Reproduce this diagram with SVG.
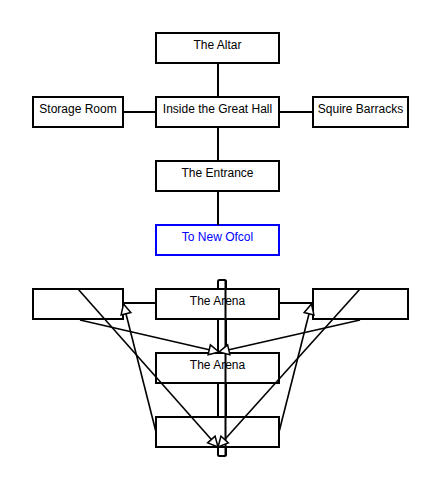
<svg xmlns="http://www.w3.org/2000/svg" width="441" height="480" viewBox="0 0 441 480">
<style>
.box{fill:#fff;stroke:#000;stroke-width:2}
.blue{fill:#fff;stroke:#0000ff;stroke-width:2}
.t{font-family:"Liberation Sans",Arial,sans-serif;font-size:12px;text-anchor:middle;fill:#000}
.tb{fill:#0000ff}
.c{stroke:#000;stroke-width:2;fill:none}
.d{stroke:#000;stroke-width:1.6;fill:none}
</style>
<defs>
<marker id="ah" markerUnits="userSpaceOnUse" markerWidth="14" markerHeight="14" viewBox="-2 -2 14 14" refX="10" refY="5" orient="auto">
<path d="M0,0 L10,5 L0,10 Z" fill="#fff" stroke="#000" stroke-width="1.5"/>
</marker>
</defs>
<rect width="441" height="480" fill="#fff"/>
<g id="bar"><rect x="218" y="280" width="8" height="176" rx="1.5" class="box"/></g>
<g id="altar"><rect x="156" y="33" width="123" height="30" class="box"/><text x="217.5" y="49" class="t">The Altar</text></g>
<g id="storage"><rect x="33" y="97" width="90" height="30" class="box"/><text x="78" y="113" class="t">Storage Room</text></g>
<g id="hall"><rect x="156" y="97" width="123" height="30" class="box"/><text x="217.5" y="113" class="t">Inside the Great Hall</text></g>
<g id="squire"><rect x="313" y="97" width="95" height="30" class="box"/><text x="360.5" y="113" class="t">Squire Barracks</text></g>
<g id="entrance"><rect x="156" y="161" width="123" height="30" class="box"/><text x="217.5" y="177" class="t">The Entrance</text></g>
<g id="ofcol"><rect x="156" y="225" width="123" height="30" class="blue"/><text x="217.5" y="241" class="t tb">To New Ofcol</text></g>
<g id="left"><rect x="33" y="289" width="90" height="30" class="box"/></g>
<g id="arena1"><rect x="156" y="289" width="123" height="30" class="box"/><text x="217.5" y="305" class="t">The Arena</text></g>
<g id="right"><rect x="313" y="289" width="95" height="30" class="box"/></g>
<g id="arena2"><rect x="156" y="353" width="123" height="30" class="box"/><text x="217.5" y="369" class="t">The Arena</text></g>
<g id="bottom"><rect x="156" y="417" width="123" height="30" class="box"/></g>
<g id="connectors">
<line x1="218" y1="63" x2="218" y2="97" class="c"/>
<line x1="218" y1="127" x2="218" y2="161" class="c"/>
<line x1="218" y1="191" x2="218" y2="225" class="c"/>
<line x1="123" y1="112" x2="156" y2="112" class="c"/>
<line x1="279" y1="112" x2="313" y2="112" class="c"/>
<line x1="123" y1="303" x2="156" y2="303" class="c"/>
<line x1="279" y1="303" x2="313" y2="303" class="c"/>
<line x1="225.5" y1="280" x2="225.5" y2="456" class="c"/>
<line x1="156" y1="432" x2="123.5" y2="304" class="d" marker-end="url(#ah)"/>
<line x1="279" y1="432" x2="311.5" y2="304" class="d" marker-end="url(#ah)"/>
<line x1="80" y1="320" x2="219" y2="352" class="d" marker-end="url(#ah)"/>
<line x1="360" y1="320" x2="219" y2="352" class="d" marker-end="url(#ah)"/>
<line x1="78" y1="289" x2="218" y2="447" class="d" marker-end="url(#ah)"/>
<line x1="360" y1="289" x2="218" y2="447" class="d" marker-end="url(#ah)"/>
</g>
</svg>
